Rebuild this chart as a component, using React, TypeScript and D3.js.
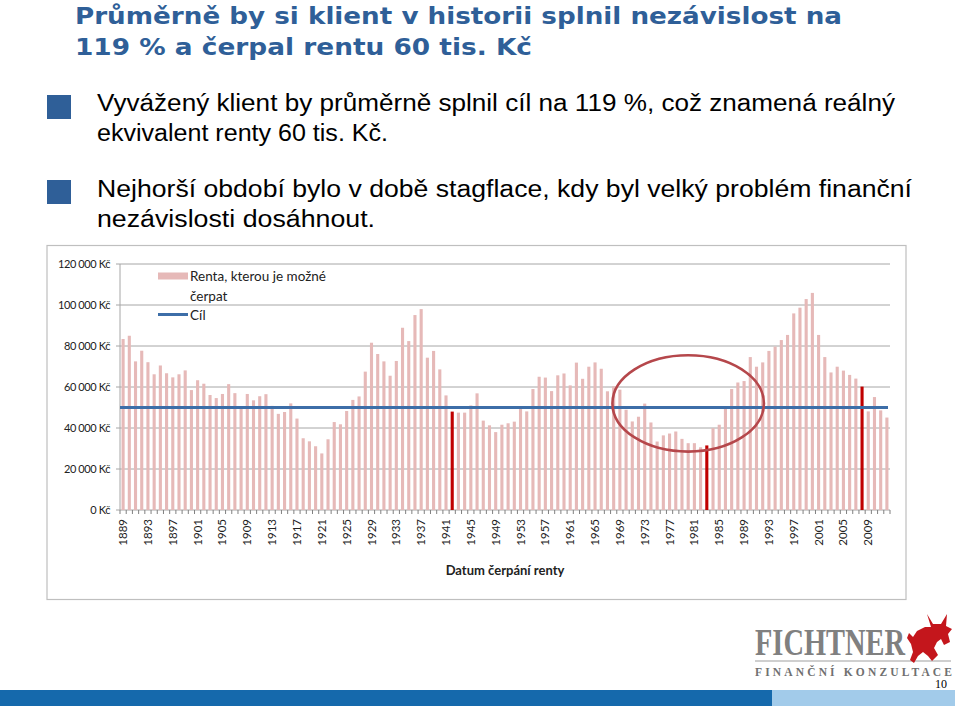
import React from 'react';
import * as d3 from 'd3';

const W = 960;
const H = 706;

// years of rent start (categories)
const years = d3.range(1889, 2013);

// rent that could be drawn, in Kč
const renta = [
  83400, 85000, 72500, 77700, 72100, 66200, 70500, 66700, 64700, 66200,
  68100, 58500, 63300, 61600, 56100, 54600, 56600, 61400, 57000, 49600,
  56600, 53500, 55500, 56500, 50800, 46900, 47800, 52000, 44600, 35000,
  33500, 31100, 27600, 34500, 42900, 41800, 48300, 53700, 55400, 67500,
  81600, 76100, 72500, 65500, 72700, 88900, 82400, 95100, 98000, 74300,
  77600, 68600, 55900, 48000, 47500, 47500, 51000, 56900, 43600, 41300,
  38000, 41600, 42300, 43100, 49800, 48100, 59000, 65000, 64600, 58000,
  65700, 66600, 60800, 71900, 64000, 69900, 72000, 68900, 57900, 60300,
  58700, 48900, 43200, 45500, 51900, 42700, 33400, 36400, 37300, 38300,
  34700, 32600, 32600, 30600, 31500, 39900, 41600, 49700, 59000, 62200,
  62900, 74600, 69900, 72000, 77600, 79700, 82900, 85400, 95900, 98700,
  102900, 105900, 85400, 74600, 67100, 69900, 68000, 65900, 64100, 60200,
  48100, 55100, 48600, 45100,
];

const highlighted = [1942, 1983, 2008];
const cil = 50000;
const yTicks = [0, 20000, 40000, 60000, 80000, 100000, 120000];

const titleLines = [
  'Průměrně by si klient v historii splnil nezávislost na',
  '119 % a čerpal rentu 60 tis. Kč',
];
const bullet1 = [
  'Vyvážený klient by průměrně splnil cíl na 119 %, což znamená reálný',
  'ekvivalent renty 60 tis. Kč.',
];
const bullet2 = [
  'Nejhorší období bylo v době stagflace, kdy byl velký problém finanční',
  'nezávislosti dosáhnout.',
];

const PLOT = { left: 120, right: 890, top: 264, bottom: 510 };
const BLUE = '#2F5F98';
const PINK = '#E6B9B8';

const fmt = (v: number) => d3.format(',')(v).replace(/,/g, ' ') + ' Kč';

const App = () => {
  const x = d3.scaleBand<number>().domain(years).range([PLOT.left, PLOT.right]).paddingInner(0.5).paddingOuter(0.25);
  const y = d3.scaleLinear().domain([0, 120000]).range([PLOT.bottom, PLOT.top]);
  const bw = x.bandwidth();
  const step = x.step();

  const chartFont = 'Lato, "Open Sans", sans-serif';
  const arial = '"Liberation Sans", Arial, sans-serif';

  const cx = (x(1980) ?? 0) + bw / 2;

  // text widths taken from the slide
  const titleW = [767, 457];
  const b1W = [798, 291];
  const b2W = [815, 278];

  return (
    <svg width={W} height={H} style={{ position: 'absolute', left: 0, top: 0, background: '#fff' }}>
      {/* title */}
      <g fontFamily='"DejaVu Sans", sans-serif' fontWeight="bold" fontSize={23.5} fill={BLUE}>
        {titleLines.map((t, i) => (
          <text key={i} x={75} y={23.5 + i * 31.5} textLength={titleW[i]} lengthAdjust="spacingAndGlyphs">{t}</text>
        ))}
      </g>

      {/* bullets */}
      <rect x={47} y={95} width={24} height={24} fill={BLUE} />
      <rect x={47} y={180} width={24} height={24} fill={BLUE} />
      <g fontFamily={arial} fontSize={23.5} fill="#000">
        {bullet1.map((t, i) => (
          <text key={i} x={97} y={111 + i * 30} textLength={b1W[i]} lengthAdjust="spacingAndGlyphs">{t}</text>
        ))}
        {bullet2.map((t, i) => (
          <text key={i} x={97} y={197 + i * 30} textLength={b2W[i]} lengthAdjust="spacingAndGlyphs">{t}</text>
        ))}
      </g>

      {/* chart frame */}
      <rect x={47} y={245.5} width={859} height={354} fill="#fff" stroke="#BFBFBF" strokeWidth={1.2} />

      <g fontFamily={chartFont}>
        {/* gridlines + y labels */}
        {yTicks.map((t) => (
          <g key={t}>
            <line x1={PLOT.left - 4} x2={PLOT.right} y1={y(t)} y2={y(t)} stroke="#A6A6A6" strokeWidth={1} />
            <text x={110} y={y(t)} dy="0.35em" textAnchor="end" fontSize={11} fill="#222" letterSpacing={-0.4}>
              {fmt(t)}
            </text>
          </g>
        ))}
        <line x1={PLOT.left} x2={PLOT.left} y1={PLOT.top} y2={PLOT.bottom} stroke="#A6A6A6" />

        {/* bars */}
        {years.map((yr, i) => {
          const hl = highlighted.includes(yr);
          return (
            <rect
              key={yr}
              x={x(yr)}
              y={y(renta[i])}
              width={bw}
              height={y(0) - y(renta[i])}
              fill={hl ? '#C00000' : PINK}
            />
          );
        })}

        {/* x axis ticks */}
        {years.map((yr) => (
          <line key={yr} x1={(x(yr) ?? 0) - (step - bw) / 2} x2={(x(yr) ?? 0) - (step - bw) / 2} y1={PLOT.bottom} y2={PLOT.bottom + 4} stroke="#808080" />
        ))}
        <line x1={PLOT.right} x2={PLOT.right} y1={PLOT.bottom} y2={PLOT.bottom + 4} stroke="#808080" />

        {/* target line */}
        <line x1={PLOT.left} x2={PLOT.right - 2} y1={y(cil)} y2={y(cil)} stroke="#3D6EA8" strokeWidth={3} />

        {/* stagflation ellipse */}
        <ellipse cx={cx} cy={y(52000)} rx={12.2 * step} ry={y(0) - y(23500)} fill="none" stroke="#B5474B" strokeWidth={2.6} />

        {/* x labels */}
        {years.filter((yr) => (yr - 1889) % 4 === 0).map((yr) => {
          const px = (x(yr) ?? 0) + bw / 2;
          return (
            <text key={yr} transform={`translate(${px},519) rotate(-90)`} dy="0.35em" textAnchor="end" fontSize={11.5} fill="#222">
              {yr}
            </text>
          );
        })}
        <text x={(PLOT.left + PLOT.right) / 2} y={575} textAnchor="middle" fontSize={13} fontWeight="bold" fill="#222">
          Datum čerpání renty
        </text>

        {/* legend */}
        <rect x={158} y={272.5} width={30} height={7} fill={PINK} />
        <text x={190} y={281} fontSize={13.5} fill="#222">Renta, kterou je možné</text>
        <text x={190} y={300.5} fontSize={13.5} fill="#222">čerpat</text>
        <line x1={158} x2={188} y1={314.5} y2={314.5} stroke="#3D6EA8" strokeWidth={3} />
        <text x={190} y={320} fontSize={13.5} fill="#222">Cíl</text>
      </g>

      {/* logo */}
      <g>
        <text x={755} y={655} fontFamily='"Liberation Serif", "DejaVu Serif", serif' fontWeight="bold" fontSize={37} fill="#808080" textLength={150} lengthAdjust="spacingAndGlyphs">
          FICHTNER
        </text>
        <line x1={755} x2={951} y1={661} y2={661} stroke="#A0A0A0" strokeWidth={1.2} />
        <text x={755} y={676} fontFamily='"Liberation Serif", "DejaVu Serif", serif' fontWeight="bold" fontSize={11.5} fill="#707070" textLength={197} lengthAdjust="spacing">
          FINANČNÍ KONZULTACE
        </text>
        <path
          transform="translate(907,612)"
          fill="#C4161C"
          d="M20 2 L26 12 L34 12 L40 2 L39 14 L45 17 L41 22 L43 30 L37 33 L34 27 L30 30 L27 36 L31 43 L25 49 L21 44 L16 40 L11 44 L7 51 L3 48 L6 40 L4 32 L0 26 L2 21 L6 25 L10 19 L18 15 L24 15 Z"
        />
        <text x={935} y={688} fontFamily='"Liberation Serif", serif' fontSize={12} fill="#000">10</text>
      </g>

      {/* bottom band */}
      <rect x={0} y={690} width={772} height={16} fill="#1569AC" />
      <rect x={772} y={690} width={183} height={16} fill="#A2CBEA" />
    </svg>
  );
};

export default App;
